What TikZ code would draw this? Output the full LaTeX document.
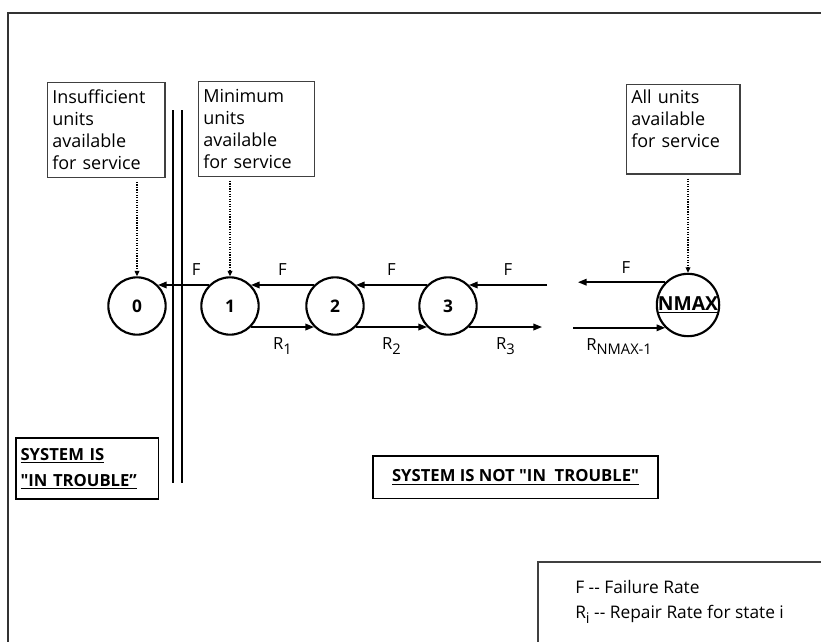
\documentclass[tikz,border=0pt]{standalone}
\usepackage{fontspec}
\setmainfont{Open Sans}
\usetikzlibrary{positioning,arrows.meta,calc}
\newcommand{\lowsub}[1]{\raisebox{-3.5pt}{\fontsize{11}{11}\selectfont#1}}

\begin{document}
\begin{tikzpicture}[
      x=0.75pt,y=-0.75pt,
      every node/.style={font=\fontsize{13.5}{16.5}\selectfont},
      st/.style={draw,circle,line width=1.6pt,minimum size=43pt,inner sep=0pt,
        font=\fontsize{13}{14}\selectfont\bfseries},
      note/.style={draw=black!75,line width=0.9pt,anchor=north west,align=left,
        inner xsep=3.5pt,inner ysep=3pt,minimum height=71pt},
      tag/.style={draw,line width=1.3pt,anchor=north west,align=left,
        inner xsep=3.5pt,inner ysep=3pt},
      tr/.style={line width=1.1pt,-{Triangle[length=6.5pt,width=5pt]}},
      ptr/.style={densely dotted,line width=0.9pt,shorten <=3pt,
        -{Triangle[length=4pt,width=3.5pt]}},
      rl/.style={font=\fontsize{12.5}{14}\selectfont}
    ]
    \useasboundingbox (0,0) rectangle (821,642);
    % frame
    \draw[line width=1.4pt,black!80] (8,642) |- (821,13);
    % notes
    \node[note,text width=81pt] (n0) at (47,82) {Insufficient\\units\\available\\for service};
    \node[note,text width=80pt] (n1) at (198,81) {Minimum\\units\\available\\for service};
    \node[note,text width=78pt,minimum height=67pt] (nN) at (626,84) {All units\\available\\for service\\\mbox{}};
    % states
    \node[st] (s0) at (137,306) {0};
    \node[st] (s1) at (230,306) {1};
    \node[st] (s2) at (335,306) {2};
    \node[st] (s3) at (448,306) {3};
    \node[st,font=\fontsize{14.5}{15}\selectfont\bfseries] (sN) at (688,305) {\underline{NMAX}};
    % open ends of the chain
    \coordinate (gF) at (547,0); \coordinate (gR) at (542,0);
    \coordinate (hF) at (578,0); \coordinate (hR) at (573,0);
    % failure / repair transitions
    \draw[tr] (s1.135) -- node[pos=0.25,above=3pt,rl] {F} (s0.45);
    \foreach \a/\b/\i in {s1/s2/1,s2/s3/2}{
      \draw[tr] (\b.135) -- node[above=3pt,rl] {F} (\a.45);
      \draw[tr] (\a.-45) -- node[below=4pt,rl] {R\lowsub{\i}} (\b.-135);}
    \draw[tr] (gF |- s3.45) -- node[above=3pt,rl] {F} (s3.45);
    \draw[tr] (s3.-45) -- node[below=4pt,rl] {R\lowsub{3}} (gR |- s3.-45);
    \draw[tr] (sN.135) -- node[pos=0.45,above=3pt,rl] {F} (hF |- sN.135);
    \draw[tr] (hR |- sN.-135) -- node[below=4pt,rl] {R\lowsub{NMAX-1}} (sN.-135);
    % pointers
    \draw[ptr] (s0 |- n0.south) -- (s0.north);
    \draw[ptr] (s1 |- n1.south) -- (s1.north);
    \draw[ptr] (sN |- nN.south) -- (sN.north);
    % trouble boundary
    \draw[line width=1.8pt] (173,110) -- (173,483);
    \draw[line width=1.8pt] (182,110) -- (182,483);
    \node[tag,text width=100pt,font=\fontsize{12.5}{19.5}\selectfont\bfseries,minimum height=46pt] (bad) at (15,437)
      {\underline{SYSTEM IS}\\\underline{\textquotedbl IN TROUBLE''}};
    \node[tag,minimum width=214pt,minimum height=32pt,align=center,font=\fontsize{12.5}{14}\selectfont\bfseries] (ok) at (372,455)
      {\underline{SYSTEM IS NOT \textquotedbl IN\ \ TROUBLE\textquotedbl}};
    % legend
    \node[anchor=north west,align=left,inner sep=0pt,font=\fontsize{13}{18.75}\selectfont] (lg) at (575,580)
      {F -{}- Failure Rate\\R\lowsub{i} -{}- Repair Rate for state i};
    \draw[line width=1.6pt,black!75] (538,642) |- (821,562);
  \end{tikzpicture}
\end{document}
